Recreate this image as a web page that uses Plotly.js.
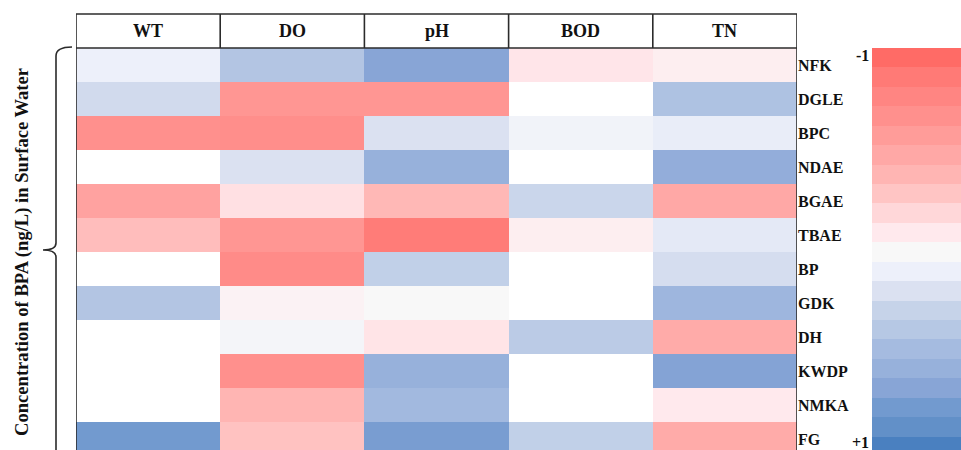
<!DOCTYPE html>
<html>
<head>
<meta charset="utf-8">
<script src="https://cdn.plot.ly/plotly-3.0.1.min.js"></script>
<style>
  html, body { margin: 0; padding: 0; background: #fff; overflow: hidden; }
  #chart { width: 961px; height: 450px; }
</style>
</head>
<body>
<div id="chart"></div>
<script>
// Water-quality parameters (columns) and BPA compounds (rows)
const parameters = ['WT', 'DO', 'pH', 'BOD', 'TN'];
const compounds = ['NFK', 'DGLE', 'BPC', 'NDAE', 'BGAE', 'TBAE', 'BP', 'GDK', 'DH', 'KWDP', 'NMKA', 'FG'];

// Correlation coefficients per parameter, in compound order (null = not significant)
const corrWT  = [0.10, 0.25, -0.70, null, -0.55, -0.35, null, 0.42, null, null, null, 0.80];
const corrDO  = [0.42, -0.65, -0.72, 0.20, -0.15, -0.65, -0.75, -0.04, 0.04, -0.70, -0.40, -0.32];
const corrPH  = [0.70, -0.65, 0.20, 0.60, -0.38, -0.88, 0.33, 0.00, -0.13, 0.60, 0.52, 0.77];
const corrBOD = [-0.12, null, 0.06, null, 0.28, -0.07, null, null, 0.37, null, null, 0.33];
const corrTN  = [-0.07, 0.45, 0.12, 0.63, -0.50, 0.15, 0.23, 0.55, -0.48, 0.72, -0.10, -0.48];

// Colour key levels and their colours (-1 red ... +1 blue)
const keyLevels = [-1, -0.9, -0.8, -0.7, -0.6, -0.5, -0.4, -0.3, -0.2, -0.1, 0,
                   0.1, 0.2, 0.3, 0.4, 0.5, 0.6, 0.7, 0.8, 0.9, 1];
const keyColors = ['#ff6b66', '#ff7a76', '#ff8582', '#ff908d', '#ff9c99', '#ffa8a6',
                   '#ffb5b3', '#ffc5c4', '#ffd7d9', '#ffe9ed', '#f8f8f8', '#edf0fa',
                   '#dbe1f1', '#c6d3e9', '#b6c8e4', '#a5bbe0', '#97b1db', '#88a5d6',
                   '#729acf', '#6290c8', '#4a80c0'];
const keyTickVals = [-1, 1];
const keyTickText = ['-1', '+1'];

const colorscale = keyLevels.map((v, i) => [(v + 1) / 2, keyColors[i]]);

const columns = [corrWT, corrDO, corrPH, corrBOD, corrTN];
const z = compounds.map((_, r) => columns.map(col => col[r]));

// Page geometry helpers (pixel -> paper)
const W = 961, H = 450;
const M = { l: 76, r: 0, t: 48, b: 0 };
const PW = W - M.l - M.r, PH = H - M.t - M.b;
const px = x => (x - M.l) / PW;
const py = y => (H - M.b - y) / PH;

const serif = 'Liberation Serif, Times New Roman, serif';
const ink = '#2b2b2b';
const rowPx = 34;          // height of one compound row
const keyPx = 408 / keyLevels.length;  // height of one key stripe
const heatDomainEnd = px(797);
const keyDomainStart = px(872);

const heat = {
  type: 'heatmap',
  x: parameters,
  y: compounds,
  z: z,
  zmin: -1, zmax: 1,
  colorscale: colorscale,
  showscale: false,
  hoverongaps: false,
  xaxis: 'x', yaxis: 'y'
};

const key = {
  type: 'heatmap',
  x: [0],
  y: keyLevels,
  z: keyLevels.map(v => [v]),
  zmin: -1, zmax: 1,
  colorscale: colorscale,
  showscale: false,
  xaxis: 'x2', yaxis: 'y2'
};

// Header box and frame
const headerTop = py(14);
const shapes = [];
const lineStyle = { color: ink, width: 1.6 };
shapes.push({ type: 'line', xref: 'x', yref: 'paper', x0: -0.5, x1: parameters.length - 0.5, y0: headerTop, y1: headerTop, line: lineStyle });
shapes.push({ type: 'line', xref: 'x', yref: 'paper', x0: -0.5, x1: parameters.length - 0.5, y0: 1, y1: 1, line: lineStyle });
for (let i = 0; i <= parameters.length; i++) {
  const edge = (i === 0 || i === parameters.length);
  shapes.push({ type: 'line', xref: 'x', yref: 'paper', x0: i - 0.5, x1: i - 0.5,
                y0: edge ? -0.05 : 1, y1: headerTop, line: lineStyle });
}
// Curly brace grouping the compounds
const bx = 56, tipX = 43, midY = 250;
const bracePath = [
  `M ${px(72)} ${py(47)}`,
  `Q ${px(bx)} ${py(47)} ${px(bx)} ${py(56)}`,
  `L ${px(bx)} ${py(midY - 7)}`,
  `Q ${px(bx)} ${py(midY)} ${px(tipX)} ${py(midY)}`,
  `Q ${px(bx)} ${py(midY)} ${px(bx)} ${py(midY + 7)}`,
  `L ${px(bx)} ${py(470)}`
].join(' ');
shapes.push({ type: 'path', xref: 'paper', yref: 'paper', path: bracePath, line: { color: ink, width: 1.6 } });

const annotations = parameters.map(p => ({
  x: p, xref: 'x', y: (1 + headerTop) / 2, yref: 'paper',
  text: '<b>' + p + '</b>', showarrow: false, xanchor: 'center', yanchor: 'middle',
  font: { family: serif, size: 18, color: '#111' }
}));
annotations.push({
  x: px(22), y: py(252), xref: 'paper', yref: 'paper',
  text: '<b>Concentration of BPA (ng/L) in Surface Water</b>',
  textangle: -90, showarrow: false, xanchor: 'center', yanchor: 'middle',
  font: { family: serif, size: 18.6, color: '#111' }
});
// Colour key end labels, beside the first and last stripes
keyTickVals.forEach((v, i) => {
  annotations.push({
    x: -0.5, xref: 'x2', y: v, yref: 'y2',
    text: '<b>' + keyTickText[i] + '</b>', showarrow: false,
    xanchor: 'right', yanchor: 'middle', xshift: -1, yshift: i === 0 ? 2 : 4,
    font: { family: serif, size: 16, color: '#111' }
  });
});

const layout = {
  width: W, height: H,
  margin: M,
  paper_bgcolor: '#fff', plot_bgcolor: '#fff',
  showlegend: false,
  xaxis: { domain: [0, heatDomainEnd], range: [-0.5, parameters.length - 0.5], showticklabels: false,
           showgrid: false, zeroline: false, ticks: '', fixedrange: true },
  yaxis: { anchor: 'x', side: 'right', type: 'category',
           range: [-0.5 + PH / rowPx, -0.5], showgrid: false, zeroline: false, ticks: '',
           ticklabeloverflow: 'allow',
           tickfont: { family: serif, size: 16, color: '#111', weight: 'bold' } },
  xaxis2: { domain: [keyDomainStart, 1], range: [-0.5, 0.5], showticklabels: false,
            showgrid: false, zeroline: false, ticks: '' },
  yaxis2: { anchor: 'x2', side: 'left', range: [-1.05 + (PH / keyPx) * 0.1, -1.05],
            showticklabels: false, showgrid: false, zeroline: false, ticks: '' },
  shapes: shapes,
  annotations: annotations
};

Plotly.newPlot('chart', [heat, key], layout, { displayModeBar: false, staticPlot: true });
</script>
</body>
</html>
